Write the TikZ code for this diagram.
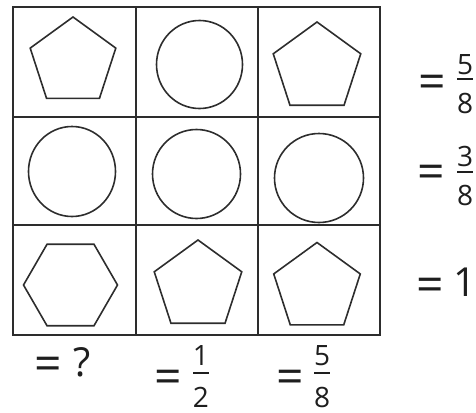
\documentclass[tikz,border=0pt]{standalone}
\usepackage{fontspec}
\setmainfont{Open Sans}
\usepackage{tikz}
\usetikzlibrary{shapes.geometric}
\definecolor{InkGray}{RGB}{45,45,45}
\definecolor{TextGray}{RGB}{30,30,30}

\begin{document}
\begin{tikzpicture}[
    x=1pt, y=-1pt,
    gridline/.style={draw=InkGray, line width=1.8pt},
    penta/.style={regular polygon, regular polygon sides=5, draw=InkGray, line width=1.6pt, inner sep=0pt},
    hexa/.style={regular polygon, regular polygon sides=6, draw=InkGray, line width=1.6pt, inner sep=0pt},
    round/.style={ellipse, draw=InkGray, line width=1.6pt, inner sep=0pt},
    eqsign/.style={inner sep=0pt, text=TextGray, yshift=-5pt, font=\fontsize{48}{48}\selectfont},
    digit/.style={inner sep=0pt, text=TextGray, font=\fontsize{28}{28}\selectfont},
    bigdigit/.style={inner sep=0pt, text=TextGray, font=\fontsize{40}{40}\selectfont},
    fracbar/.style={draw=TextGray, line width=1.8pt}
  ]
    \useasboundingbox (0,0) rectangle (476,412);
    % grid
    \draw[gridline] (13,7) rectangle (380,335);
    \foreach \gx in {136,258} \draw[gridline] (\gx,7) -- (\gx,335);
    \foreach \gy in {117,225} \draw[gridline] (13,\gy) -- (380,\gy);
    % row 1
    \node[penta, minimum size=90pt] (s11) at (73,62) {};
    \node[round, minimum width=86pt, minimum height=88pt] (s12) at (199.5,64.5) {};
    \node[penta, minimum size=92pt] (s13) at (317,68) {};
    % row 2
    \node[round, minimum width=87pt, minimum height=90pt] (s21) at (72,171.5) {};
    \node[round, minimum width=88pt, minimum height=89pt] (s22) at (196.5,174) {};
    \node[round, minimum width=89pt, minimum height=89pt] (s23) at (319,178) {};
    % row 3
    \node[hexa, minimum size=94pt] (s31) at (70.5,285) {};
    \node[penta, minimum size=92pt] (s32) at (198,286) {};
    \node[penta, minimum size=91pt] (s33) at (317,288) {};
    % row sums
    \node[eqsign] (req1) at (432,82) {=};
    \node[digit] (rnum1) at (465,65) {5};
    \node[digit] (rden1) at (465,103) {8};
    \draw[fracbar] (457,79) -- (473,79);
    \node[eqsign] (req2) at (431,172) {=};
    \node[digit] (rnum2) at (465,156) {3};
    \node[digit] (rden2) at (465,195) {8};
    \draw[fracbar] (457,172) -- (473,172);
    \node[eqsign] (req3) at (430.5,285) {=};
    \node[bigdigit] (rone) at (465,282.5) {1};
    % column sums
    \node[eqsign] (ceq1) at (48,364) {=};
    \node[bigdigit] (cq) at (82,362) {?};
    \node[eqsign] (ceq2) at (168,377) {=};
    \node[digit] (cnum2) at (201,356) {1};
    \node[digit] (cden2) at (201,397) {2};
    \draw[fracbar] (193,373) -- (209,373);
    \node[eqsign] (ceq3) at (290,377) {=};
    \node[digit] (cnum3) at (322,356) {5};
    \node[digit] (cden3) at (322,397) {8};
    \draw[fracbar] (314,373) -- (330,373);
  \end{tikzpicture}
\end{document}
